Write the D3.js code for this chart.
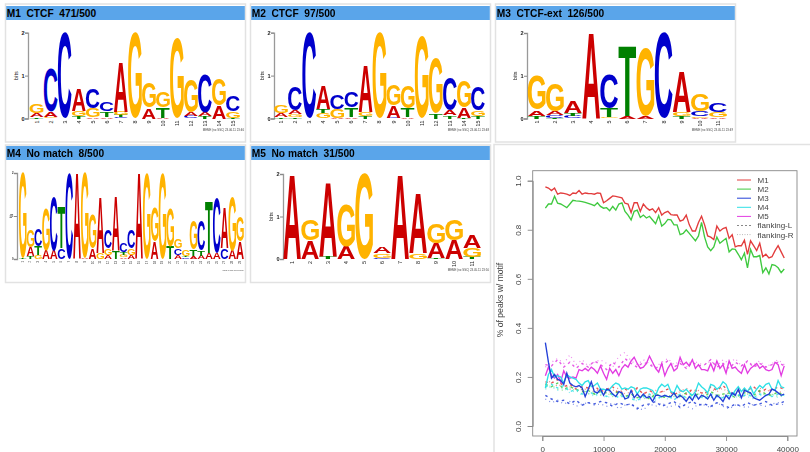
<!DOCTYPE html>
<html><head><meta charset="utf-8">
<script src="https://cdn.jsdelivr.net/npm/d3@7"></script>
<style>
html,body{margin:0;padding:0;background:#fff;overflow:hidden}
svg{display:block;filter:blur(0.4px)}
text{font-family:"Liberation Sans",Arial,sans-serif}
</style></head><body>
<svg id="c" width="810" height="452"></svg>
<script>
// ---------- sequence logo data: each column lists [letter, bits] from bottom to top
const logoM1=[[["T",.03],["A",.1],["G",.2]],[["G",.04],["A",.12],["C",1.0]],[["C",2]],[["T",.05],["G",.13],["A",.5]],[["A",.03],["G",.22],["C",.45]],[["A",.04],["T",.13],["C",.2]],[["C",.03],["T",.05],["G",.08],["A",1.16]],[["G",2]],[["A",.25],["G",.57]],[["A",.02],["T",.25],["G",.35]],[["A",.01],["G",1.87]],[["C",.05],["A",.1],["G",.75]],[["T",.05],["A",.1],["C",.9]],[["A",.3],["G",.6]],[["T",.02],["G",.15],["C",.36]]];
const logoM2=[[["T",.03],["A",.1],["G",.19]],[["T",.04],["G",.06],["A",.08],["C",.55]],[["C",2]],[["G",.12],["T",.1],["A",.53]],[["A",.02],["G",.2],["C",.33]],[["A",.04],["T",.22],["C",.36]],[["T",.05],["G",.1],["A",1.1]],[["G",2]],[["C",.02],["A",.28],["G",.5]],[["A",.04],["T",.2],["G",.53]],[["C",.01],["G",1.9]],[["T",.13],["G",1.3]],[["T",.07],["A",.12],["C",.78]],[["T",.02],["A",.23],["G",.6]],[["T",.05],["G",.13],["C",.55]]];
const logoM3=[[["T",.07],["A",.13],["G",.8]],[["T",.02],["C",.07],["A",.08],["G",.65]],[["C",.07],["T",.07],["A",.26]],[["A",2]],[["G",.03],["T",.2],["C",.79]],[["A",.07],["T",1.63]],[["A",.07],["G",1.6]],[["C",2]],[["T",.05],["G",.1],["A",.94]],[["A",.02],["G",.03],["C",.13],["G",.41]],[["A",.03],["G",.13],["C",.22]]];
const logoM4=[[["T",.02],["G",1.98]],[["T",.07],["A",.2],["G",.41]],[["G",.1],["T",.2],["C",.4]],[["A",.2],["G",.98]],[["A",.2],["C",1.25]],[["C",.25],["T",.95]],[["C",2]],[["A",2]],[["A",.02],["G",1.98]],[["A",.25],["G",.78]],[["G",.15],["A",1.3]],[["A",.1],["G",.15],["C",.43]],[["T",.18],["A",1.27]],[["A",.04],["G",.06],["T",.06],["C",.2]],[["A",.1],["G",.15],["C",.43]],[["A",2]],[["G",2]],[["A",.4],["G",.8]],[["G",2]],[["T",.3],["G",.9]],[["A",.1],["C",.15],["G",.22]],[["C",.04],["T",.03],["G",.16]],[["A",.07],["T",.15],["G",.68]],[["A",.08],["T",.12],["C",.7]],[["A",.15],["T",1.2]],[["A",.15],["C",1.3]],[["C",.25],["A",.93]],[["A",.2],["G",1.25]],[["A",.4],["G",.58]]];
const logoM5=[[["A",2]],[["A",.43],["G",.5]],[["T",.05],["A",1.75]],[["A",.3],["G",1.0]],[["G",2]],[["C",.03],["G",.1],["A",.15]],[["A",2]],[["G",.13],["A",1.4]],[["T",.02],["A",.35],["G",.45]],[["A",.45],["G",.5]],[["T",.05],["G",.2],["A",.3]]];
const panelTitles=["M1  CTCF  471/500","M2  CTCF  97/500","M3  CTCF-ext  126/500","M4  No match  8/500","M5  No match  31/500"];
const panelStamps=["MEME (no SSC) 23.06.11 23:46","MEME (no SSC) 23.06.11 23:48","MEME (no SSC) 23.05.11 23:49","MEME (no SSC) 23.06.11 23:54","MEME (no SSC) 23.05.11 23:50"];
const logoColors={A:"#cc0000",C:"#0000cc",G:"#ffb300",T:"#008000"};

// ---------- line chart data
const positions=d3.range(500,40000,500);
const flankPositions=d3.range(500,40000,1000);
const lineM1=[.975,.97,.96,.97,.945,.95,.948,.945,.94,.95,.948,.96,.945,.95,.948,.947,.945,.95,.948,.91,.918,.928,.938,.936,.933,.93,.908,.905,.87,.91,.91,.875,.905,.89,.88,.885,.87,.89,.86,.87,.875,.862,.86,.86,.835,.84,.86,.82,.795,.795,.83,.855,.82,.775,.77,.76,.815,.795,.805,.81,.765,.78,.73,.735,.735,.758,.7,.755,.735,.715,.745,.69,.7,.685,.69,.715,.735,.71,.685];
const lineM2=[.888,.905,.905,.937,.908,.905,.898,.89,.905,.92,.918,.917,.915,.912,.908,.903,.898,.91,.895,.888,.89,.878,.895,.88,.905,.91,.875,.86,.84,.875,.88,.85,.86,.848,.855,.84,.825,.858,.815,.825,.842,.84,.82,.82,.78,.785,.8,.785,.77,.755,.775,.83,.77,.73,.715,.73,.77,.745,.755,.765,.71,.722,.72,.7,.678,.705,.645,.72,.69,.69,.695,.625,.645,.62,.658,.655,.645,.625,.64];
const lineM3=[.34,.26,.195,.21,.19,.185,.17,.215,.175,.165,.16,.165,.155,.12,.15,.18,.14,.135,.15,.125,.15,.145,.13,.12,.14,.135,.11,.115,.145,.115,.13,.115,.13,.115,.12,.1,.125,.125,.12,.125,.12,.12,.135,.115,.125,.115,.1,.12,.105,.13,.11,.125,.12,.11,.13,.105,.125,.115,.1,.125,.11,.135,.125,.15,.115,.145,.14,.135,.115,.11,.105,.115,.125,.13,.15,.145,.135,.125,.13];
const lineM4=[.155,.21,.23,.2,.205,.2,.175,.21,.2,.195,.19,.175,.165,.18,.185,.16,.165,.175,.15,.15,.145,.15,.165,.175,.17,.15,.155,.15,.16,.155,.13,.15,.155,.155,.15,.145,.125,.155,.17,.16,.17,.14,.135,.165,.145,.14,.15,.135,.125,.14,.175,.16,.15,.135,.17,.165,.15,.16,.18,.17,.14,.125,.145,.16,.14,.155,.14,.16,.13,.15,.165,.155,.17,.175,.15,.145,.185,.16,.155];
const lineM5=[.205,.24,.205,.195,.21,.18,.225,.2,.195,.2,.195,.23,.225,.235,.225,.24,.23,.215,.245,.215,.19,.235,.215,.23,.205,.235,.25,.24,.265,.28,.255,.235,.24,.255,.285,.26,.235,.22,.255,.205,.235,.255,.225,.235,.28,.25,.26,.245,.27,.235,.25,.23,.23,.225,.255,.225,.265,.235,.25,.215,.265,.235,.24,.225,.215,.25,.215,.235,.245,.255,.235,.245,.23,.225,.23,.26,.25,.205,.245];
const flankLM1=[.18,.175,.19,.16,.17,.15,.16,.155,.165,.14,.15,.16,.13,.15,.14,.155,.13,.145,.13,.14,.15,.125,.145,.13,.15,.14,.13,.16,.145,.165,.14,.13,.15,.145,.16,.14,.15,.145,.16,.15];
const flankLM2=[.17,.16,.175,.15,.16,.15,.14,.145,.13,.14,.135,.13,.14,.12,.13,.115,.125,.11,.13,.12,.115,.13,.12,.135,.125,.13,.12,.14,.125,.13,.135,.115,.13,.14,.125,.145,.13,.125,.14,.12];
const flankLM3=[.125,.11,.1,.105,.09,.105,.085,.095,.09,.1,.095,.08,.095,.085,.09,.07,.085,.09,.1,.08,.09,.1,.075,.09,.1,.085,.09,.08,.095,.085,.075,.09,.08,.095,.085,.09,.1,.085,.09,.1];
const flankLM4=[.16,.17,.155,.165,.14,.15,.13,.145,.125,.14,.12,.13,.115,.125,.11,.105,.12,.13,.11,.12,.125,.105,.13,.115,.12,.125,.11,.13,.12,.115,.125,.135,.12,.13,.115,.13,.125,.12,.13,.125];
const flankLM5=[.25,.245,.27,.24,.26,.235,.255,.24,.265,.25,.23,.26,.24,.275,.255,.24,.26,.25,.235,.25,.265,.24,.255,.235,.26,.245,.25,.27,.24,.255,.235,.26,.245,.265,.24,.255,.24,.25,.26,.245];
const flankRM1=[.17,.185,.16,.175,.15,.165,.145,.155,.14,.15,.135,.145,.155,.13,.14,.15,.135,.125,.145,.135,.15,.13,.14,.155,.135,.145,.13,.15,.14,.155,.13,.145,.15,.135,.145,.155,.14,.15,.135,.145];
const flankRM2=[.155,.165,.15,.145,.16,.14,.15,.13,.14,.125,.135,.12,.13,.115,.125,.13,.11,.12,.13,.115,.125,.12,.13,.115,.12,.13,.125,.115,.13,.12,.135,.125,.115,.13,.12,.135,.125,.13,.12,.125];
const flankRM3=[.11,.095,.105,.09,.1,.08,.09,.095,.085,.09,.08,.095,.07,.085,.09,.075,.065,.09,.08,.095,.075,.085,.09,.08,.07,.09,.085,.075,.095,.08,.07,.085,.08,.075,.09,.085,.08,.09,.095,.085];
const flankRM4=[.15,.16,.145,.155,.135,.145,.125,.135,.12,.13,.115,.125,.13,.11,.12,.1,.115,.125,.105,.12,.11,.125,.115,.105,.12,.11,.125,.115,.12,.11,.125,.115,.13,.12,.11,.125,.12,.13,.115,.125];
const flankRM5=[.24,.26,.275,.255,.29,.25,.27,.245,.26,.27,.255,.24,.285,.3,.265,.25,.27,.255,.24,.26,.275,.25,.265,.24,.27,.255,.25,.265,.245,.27,.255,.275,.245,.26,.25,.265,.24,.255,.27,.25];
const seriesNames=["M1","M2","M3","M4","M5","flanking-L","flanking-R"];
const seriesColors=["#e23c3c","#3fc93f","#2440d8","#2fe0e6","#e23ce2"];
const yTicks=[0,.2,.4,.6,.8,1];
const xTicks=[0,10000,20000,30000,40000];

// ---------- drawing
const svg=d3.select("#c");
const ctx=document.createElement("canvas").getContext("2d");
const metric={};
for(const L of "ACGT"){
  ctx.font='bold 100px "Liberation Sans"';
  const m=ctx.measureText(L);
  metric[L]={left:m.actualBoundingBoxLeft,w:m.actualBoundingBoxLeft+m.actualBoundingBoxRight,h:m.actualBoundingBoxAscent+m.actualBoundingBoxDescent,desc:m.actualBoundingBoxDescent};
}
const panelFrames=[
 {x:5.5,y:4,w:240,h:138,hy:6,hh:14,logo:logoM1,ax:28,first:36.7,last:233,y0:118.5,y2:32.7,fs:5.6,stamp:244,ss:2.9},
 {x:250.5,y:4,w:240,h:138,hy:6,hh:14,logo:logoM2,ax:274,first:281,last:478,y0:118.5,y2:32.7,fs:5.6,stamp:489,ss:2.9},
 {x:495.5,y:4,w:240,h:138,hy:6,hh:14,logo:logoM3,ax:527,first:536.7,last:718,y0:118.5,y2:33,fs:5.6,stamp:733,ss:2.9},
 {x:5.5,y:145,w:240,h:137.5,hy:146,hh:14,logo:logoM4,ax:17,first:22.7,last:240,y0:259,y2:173,fs:2.8,stamp:244,ss:1.5},
 {x:250.5,y:145,w:240,h:137.5,hy:146,hh:14,logo:logoM5,ax:283,first:292,last:472,y0:259,y2:174,fs:5.6,stamp:489,ss:2.9}
];
panelFrames.forEach((p,i)=>{
  const g=svg.append("g");
  g.append("rect").attr("x",p.x).attr("y",p.y).attr("width",p.w).attr("height",p.h).attr("fill","#fff").attr("stroke","#e2e2e2").attr("stroke-width",1.5);
  g.append("rect").attr("x",p.x+.7).attr("y",p.hy).attr("width",p.w-1.4).attr("height",p.hh).attr("fill","#5aa5ea");
  g.append("text").attr("x",p.x+1.2).attr("y",p.hy+10.6).attr("font-size",10.2).attr("font-weight","bold").attr("fill","#000").style("white-space","pre").text(panelTitles[i]);
  const xs=d3.scaleLinear().domain([1,p.logo.length]).range([p.first,p.last]);
  const ys=d3.scaleLinear().domain([0,2]).range([p.y0,p.y2]);
  const step=xs(2)-xs(1), lw=step*.98;
  const ax=g.append("g").attr("transform",`translate(${p.ax},0)`).call(d3.axisLeft(ys).tickValues([0,1,2]).tickFormat(d3.format("d")).tickSize(3));
  ax.select(".domain").attr("stroke","#999").attr("stroke-width",1.3);
  ax.selectAll(".tick line").attr("stroke","#888");
  ax.selectAll("text").attr("font-size",p.fs).attr("font-weight","bold").attr("fill","#222").attr("font-family",'"Liberation Sans"').attr("x",-3.5);
  g.append("text").attr("transform",`translate(${p.ax-p.fs*1.7},${(p.y0+p.y2)/2}) rotate(-90)`).attr("text-anchor","middle").attr("font-size",p.fs).attr("fill","#222").text("bits");
  p.logo.forEach((col,ci)=>{
    let sum=0;
    col.forEach(([L,b])=>{
      const m=metric[L];
      const top=ys(sum+b), bot=ys(sum);
      const sx=lw/m.w, sy=(bot-top)/m.h;
      g.append("text").attr("font-size",100).attr("font-weight","bold").attr("fill",logoColors[L])
       .attr("transform",`translate(${xs(ci+1)-lw/2+m.left*sx},${bot-m.desc*sy}) scale(${sx},${sy})`).text(L);
      sum+=b;
    });
    g.append("text").attr("transform",`translate(${xs(ci+1)+p.fs*.35},${p.y0+2}) rotate(-90)`).attr("text-anchor","end").attr("font-size",p.fs*.95).attr("fill","#222").text(ci+1);
  });
  g.append("text").attr("x",p.stamp).attr("y",p.y0+12).attr("text-anchor","end").attr("font-size",p.ss).attr("fill","#444").text(panelStamps[i]);
});

// chart frame
svg.append("path").attr("d","M494 452V144.5H810").attr("fill","none").attr("stroke","#e2e2e2").attr("stroke-width",1.5);
const x=d3.scaleLinear().domain([0,40000]).range([542.3,787.3]);
const y=d3.scaleLinear().domain([0,1]).range([426,180.7]);
const box={l:532.7,r:797,t:170.7,b:436};
svg.append("rect").attr("x",box.l).attr("y",box.t).attr("width",box.r-box.l).attr("height",box.b-box.t).attr("fill","none").attr("stroke","#888").attr("stroke-width",.9);
const ln=(xv)=>d3.line().x((d,i)=>x(xv[i])).y(d=>y(d));
const flankL=[flankLM1,flankLM2,flankLM3,flankLM4,flankLM5];
const flankR=[flankRM1,flankRM2,flankRM3,flankRM4,flankRM5];
flankR.forEach((s,i)=>svg.append("path").datum(s).attr("d",ln(flankPositions)).attr("fill","none").attr("stroke",seriesColors[i]).attr("stroke-width",1.2).attr("stroke-dasharray","1 3.5").attr("opacity",.6));
flankL.forEach((s,i)=>svg.append("path").datum(s).attr("d",ln(flankPositions)).attr("fill","none").attr("stroke",seriesColors[i]).attr("stroke-width",1.4).attr("stroke-dasharray","2.5 3.5").attr("opacity",.85));
[lineM5,lineM4,lineM2,lineM1,lineM3].forEach((s)=>{
  const ci=[lineM1,lineM2,lineM3,lineM4,lineM5].indexOf(s);
  svg.append("path").datum(s).attr("d",ln(positions)).attr("fill","none").attr("stroke",seriesColors[ci]).attr("stroke-width",1.35);
});
const ay=svg.append("g").attr("transform",`translate(${box.l},0)`).call(d3.axisLeft(y).tickValues(yTicks).tickFormat(d3.format(".1f")).tickSize(5));
ay.select(".domain").attr("stroke","#888").attr("stroke-width",.9);
ay.selectAll(".tick line").attr("stroke","#888").attr("stroke-width",.9);
ay.selectAll("text").attr("font-family",'"Liberation Sans"').attr("font-size",8).attr("fill","#444").attr("text-anchor","middle")
  .each(function(){d3.select(this).attr("x",null).attr("dy",null).attr("transform","translate(-14,0) rotate(-90)").attr("dominant-baseline","middle");});
const axx=svg.append("g").attr("transform",`translate(0,${box.b})`).call(d3.axisBottom(x).tickValues(xTicks).tickFormat(d3.format("d")).tickSize(5));
axx.select(".domain").attr("stroke","#888").attr("stroke-width",.9);
axx.selectAll(".tick line").attr("stroke","#888").attr("stroke-width",.9);
axx.selectAll("text").attr("font-family",'"Liberation Sans"').attr("font-size",8).attr("fill","#444").attr("y",10);
svg.append("text").attr("transform","translate(502.5,300) rotate(-90)").attr("text-anchor","middle").attr("font-size",8.6).attr("fill","#444").text("% of peaks w/ motif");

// legend
seriesNames.forEach((n,i)=>{
  const ly=180+i*9.1;
  const l=svg.append("line").attr("x1",737).attr("x2",751).attr("y1",ly).attr("y2",ly).attr("stroke-width",1);
  if(i<5) l.attr("stroke",seriesColors[i]);
  else l.attr("stroke",i==5?"#888":"#bbb").attr("stroke-dasharray",i==5?"2 2":"1 1.5");
  svg.append("text").attr("x",757.5).attr("y",ly+2.9).attr("font-size",8).attr("fill","#444").text(n);
});
</script></body></html>
